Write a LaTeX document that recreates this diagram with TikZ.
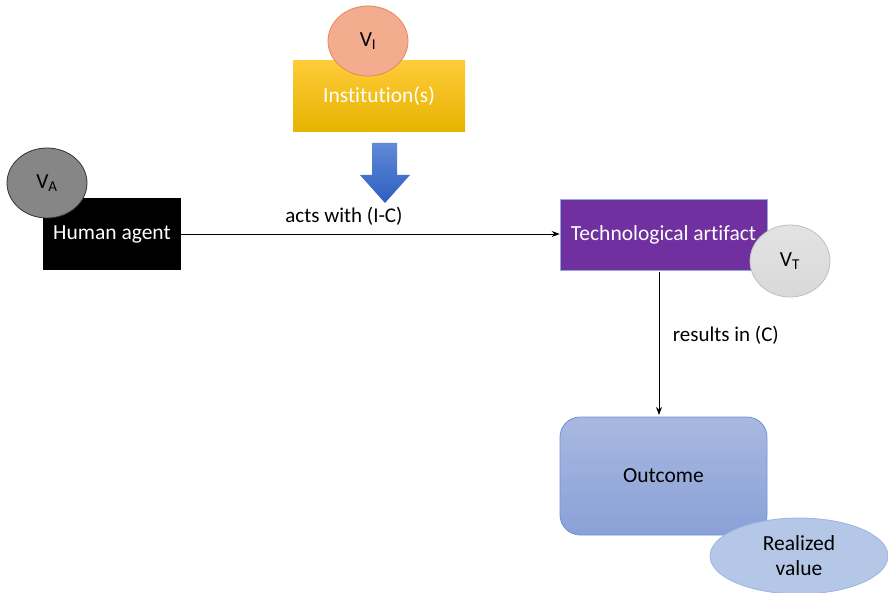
\documentclass[tikz,border=0pt]{standalone}
\usepackage{fontspec}
\setmainfont[Ligatures=NoCommon]{Carlito}
\usetikzlibrary{shapes.geometric,arrows.meta,shadings}
\definecolor{instTop}{HTML}{FFCB3A}
\definecolor{instBot}{HTML}{E6B400}
\definecolor{viFill}{HTML}{F4AC8E}
\definecolor{viDraw}{HTML}{E8845E}
\definecolor{arrTop}{HTML}{5F8AD8}
\definecolor{arrBot}{HTML}{2E5EC0}
\definecolor{purp}{HTML}{7030A0}
\definecolor{purpDraw}{HTML}{8FAADC}
\definecolor{outTop}{HTML}{A8B8E0}
\definecolor{outBot}{HTML}{8AA1D7}
\definecolor{outDraw}{HTML}{6F93DA}
\definecolor{rvFill}{HTML}{B4C7E7}
\definecolor{rvDraw}{HTML}{9DB5DE}
\tikzset{
  lbl/.style={font=\fontsize{21}{25}\selectfont, text=black},
  boxtxt/.style={font=\fontsize{21.5}{25}\selectfont},
  valell/.style={ellipse, minimum width=80pt, minimum height=70pt, inner sep=0pt, font=\fontsize{21.5}{25}\selectfont},
  conn/.style={-{Stealth[length=8pt,width=6pt]}, line width=0.9pt, black}
}
\begin{document}
\begin{tikzpicture}[x=1pt,y=-1pt]
\useasboundingbox (0,0) rectangle (888,593);
% Institution
\node[rectangle, minimum width=172pt, minimum height=71pt, top color=instTop, bottom color=instBot, inner sep=0pt, text=white, boxtxt] (inst) at (379,96) {Institution(s)};
\node[valell, fill=viFill, draw=viDraw, line width=0.8pt] (vi) at (368,41) {V\textsubscript{I}};
% block arrow
\shade[top color=arrTop, bottom color=arrBot] (372,143) -- (397,143) -- (397,175) -- (410,175) -- (385,203) -- (360,175) -- (372,175) -- cycle;
% Human agent
\node[rectangle, fill=black, minimum width=138pt, minimum height=72pt, inner sep=0pt, text=white, boxtxt] (ha) at (112,234) {Human agent};
\node[valell, fill=gray!95, draw=black!80, line width=0.8pt] (va) at (47,183) {V\textsubscript{A}};
% Technological artifact
\node[rectangle, fill=purp, draw=purpDraw, line width=0.6pt, minimum width=207pt, minimum height=71pt, inner sep=0pt, text=white, boxtxt] (ta) at (663.5,234.5) {Technological artifact};
\node[valell, top color=gray!22, bottom color=gray!30, draw=gray!50, line width=0.8pt, minimum height=72pt] (vt) at (790,261) {V\textsubscript{T}};
% Outcome
\node[rectangle, rounded corners=20pt, top color=outTop, bottom color=outBot, draw=outDraw, line width=0.8pt, minimum width=207pt, minimum height=118pt, inner sep=0pt, boxtxt] (out) at (663.5,476) {Outcome};
\node[ellipse, fill=rvFill, draw=rvDraw, line width=0.8pt, minimum width=178pt, minimum height=76pt, inner sep=0pt, align=center, font=\fontsize{21.5}{25}\selectfont] (rv) at (799,556) {Realized\\value};
% connectors
\draw[conn] (ha.east) -- (ha.east -| ta.west) node[pos=0.43, above=5pt, lbl] {acts with (I-C)};
\coordinate (tb) at (659,272);
\draw[conn] (tb) -- (659,415) node[pos=0.44, right=10pt, lbl] {results in (C)};
\end{tikzpicture}
\end{document}
